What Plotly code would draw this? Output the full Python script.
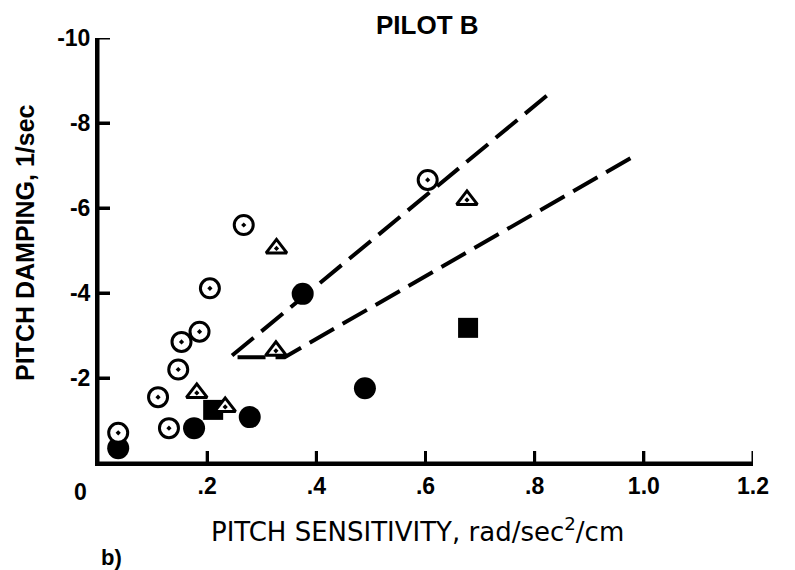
import plotly.graph_objects as go

# ---- data ----
open_circle_x = [0.037, 0.11, 0.13, 0.147, 0.153, 0.186, 0.205, 0.267, 0.604, 1.256]
open_circle_y = [-0.71, -1.55, -0.82, -2.20, -2.85, -3.09, -4.11, -5.60, -6.66, -7.69]

triangle_x = [0.327, 0.326, 0.181, 0.233, 0.676]
triangle_y = [-5.05, -2.64, -1.65, -1.32, -6.19]

filled_circle_x = [0.037, 0.176, 0.278, 0.375, 0.489]
filled_circle_y = [-0.35, -0.82, -1.08, -3.98, -1.76]

filled_square_x = [0.211, 0.678]
filled_square_y = [-1.25, -3.18]

wedge_x = [0.822, 0.242, 0.342, 0.989]
wedge_y = [-8.64, -2.49, -2.49, -7.27]

x_tick_vals = [0.2, 0.4, 0.6, 0.8, 1.0, 1.2]
x_tick_text = [".2", ".4", ".6", ".8", "1.0", "1.2"]
y_tick_vals = [-10, -8, -6, -4, -2]
y_tick_text = ["-10", "-8", "-6", "-4", "-2"]

X_RANGE = [0, 1.2]
Y_RANGE = [0, -10]

FONT = "Liberation Sans, Arial, sans-serif"
WIDE = "DejaVu Sans, sans-serif"

W, H = 795, 570
ml, mr, mt, mb = 98, 42, 38, 107
pw = W - ml - mr
ph = H - mt - mb
TICK_PX = 12

fig = go.Figure()

# axis frame (left and bottom only, x axis ends at 1.2) drawn in data space
fig.add_trace(go.Scatter(
    x=[X_RANGE[0], X_RANGE[0], X_RANGE[1]], y=[Y_RANGE[1], Y_RANGE[0], Y_RANGE[0]],
    mode="lines", line=dict(color="black", width=3),
    cliponaxis=False, showlegend=False, hoverinfo="skip"))

# inside tick marks, built from the tick value lists
dx = TICK_PX * (X_RANGE[1] - X_RANGE[0]) / pw
dy = TICK_PX * (Y_RANGE[0] - Y_RANGE[1]) / ph
tx, ty = [], []
for v in x_tick_vals:
    tx += [v, v, None]
    ty += [Y_RANGE[0], Y_RANGE[0] - dy, None]
for v in y_tick_vals:
    tx += [X_RANGE[0], X_RANGE[0] + dx, None]
    ty += [v, v, None]
fig.add_trace(go.Scatter(
    x=tx, y=ty, mode="lines", line=dict(color="black", width=3),
    cliponaxis=False, showlegend=False, hoverinfo="skip"))

fig.add_trace(go.Scatter(
    x=wedge_x, y=wedge_y, mode="lines",
    line=dict(color="black", width=4, dash="28px,10px"),
    cliponaxis=False, showlegend=False, hoverinfo="skip"))

fig.add_trace(go.Scatter(
    x=filled_circle_x, y=filled_circle_y, mode="markers",
    marker=dict(symbol="circle", size=22, color="black"),
    cliponaxis=False, showlegend=False))

fig.add_trace(go.Scatter(
    x=filled_square_x, y=filled_square_y, mode="markers",
    marker=dict(symbol="square", size=20, color="black"),
    cliponaxis=False, showlegend=False))

fig.add_trace(go.Scatter(
    x=open_circle_x, y=open_circle_y, mode="markers",
    marker=dict(symbol="circle-dot", size=19, color="white",
                line=dict(color="black", width=3)),
    cliponaxis=False, showlegend=False))

fig.add_trace(go.Scatter(
    x=triangle_x, y=triangle_y, mode="markers",
    marker=dict(symbol="triangle-up-dot", size=18, color="white",
                line=dict(color="black", width=3)),
    cliponaxis=False, showlegend=False))

fig.update_xaxes(range=X_RANGE, showgrid=False, zeroline=False,
                 showline=True, linecolor="#000000", linewidth=3,
                 tickvals=x_tick_vals, ticktext=["<b>%s</b>" % t for t in x_tick_text],
                 ticks="inside", ticklen=TICK_PX, tickwidth=3, tickcolor="#000000",
                 tickfont=dict(family=FONT, size=23, color="black"))
fig.update_yaxes(range=Y_RANGE, showgrid=False, zeroline=False,
                 showline=True, linecolor="#000000", linewidth=3,
                 tickvals=y_tick_vals, ticktext=["<b>%s</b>" % t for t in y_tick_text],
                 ticks="inside", ticklen=TICK_PX, tickwidth=3, tickcolor="#000000",
                 tickfont=dict(family=FONT, size=23, color="black"))

def px(xp):
    return (xp - ml) / pw

def py(yp):
    return (H - mb - yp) / ph

annos = [
    dict(text="<b>0</b>", x=px(80), y=py(492), font=dict(family=FONT, size=23)),
    dict(text="<b>PILOT B</b>", x=px(427), y=py(25), font=dict(family=FONT, size=26)),
    dict(text="PITCH SENSITIVITY, rad/sec<sup>2</sup>/cm", x=px(417), y=py(530),
         font=dict(family=WIDE, size=26)),
    dict(text="<b>PITCH DAMPING, 1/sec</b>", x=px(25), y=py(243), textangle=-90,
         font=dict(family=FONT, size=25)),
    dict(text="<b>b)</b>", x=px(111), y=py(557), font=dict(family=FONT, size=22)),
]
for a in annos:
    a["font"]["color"] = "black"
    fig.add_annotation(xref="paper", yref="paper", showarrow=False,
                       xanchor="center", yanchor="middle", **a)

fig.update_layout(width=W, height=H, margin=dict(l=ml, r=mr, t=mt, b=mb),
                  plot_bgcolor="white", paper_bgcolor="white")

fig.write_html("out.html")
